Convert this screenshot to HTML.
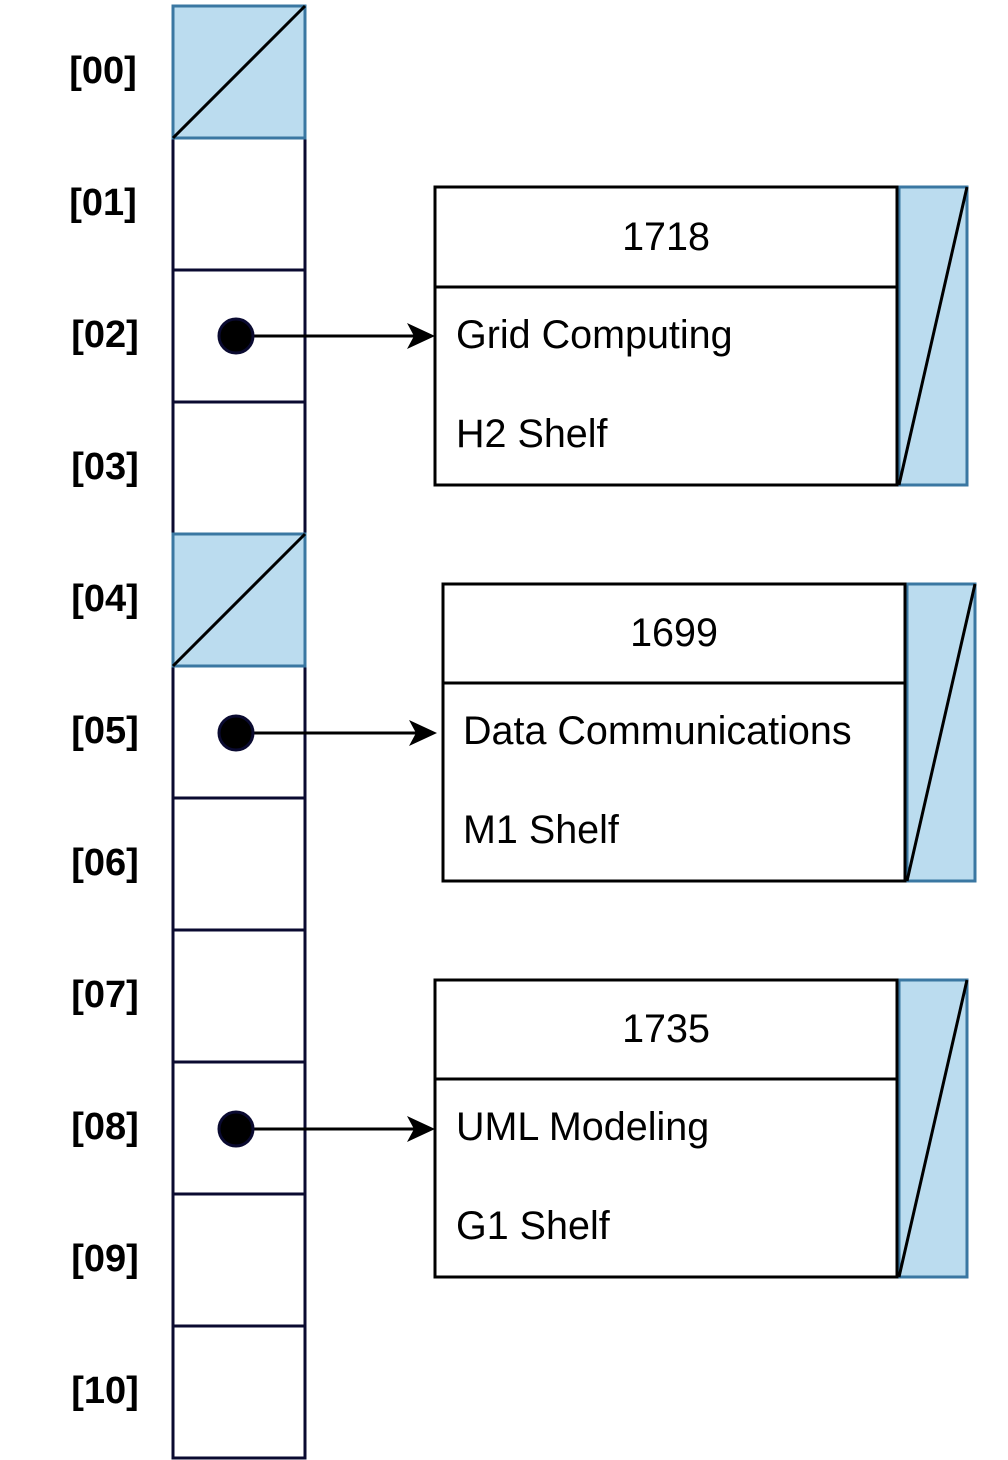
<!DOCTYPE html>
<html><head><meta charset="utf-8"><style>
html,body{margin:0;padding:0;background:#fff;}
svg{display:block;}
text{font-family:"Liberation Sans",Arial,sans-serif;}
</style></head><body>
<svg width="1008" height="1460" viewBox="0 0 1008 1460" xmlns="http://www.w3.org/2000/svg">
<g fill="#fff" stroke="#0a0a30" stroke-width="3">
<rect x="173" y="138" width="132" height="132"/>
<rect x="173" y="270" width="132" height="132"/>
<rect x="173" y="402" width="132" height="132"/>
<rect x="173" y="666" width="132" height="132"/>
<rect x="173" y="798" width="132" height="132"/>
<rect x="173" y="930" width="132" height="132"/>
<rect x="173" y="1062" width="132" height="132"/>
<rect x="173" y="1194" width="132" height="132"/>
<rect x="173" y="1326" width="132" height="132"/>
</g>
<g fill="#bbdcef" stroke="#3a77a2" stroke-width="3">
<rect x="173" y="6" width="132" height="132"/>
<rect x="173" y="534" width="132" height="132"/>
<rect x="899" y="187" width="68" height="298"/>
<rect x="907" y="584" width="68" height="297"/>
<rect x="899" y="980" width="68" height="297"/>
</g>
<g stroke="#000" stroke-width="3">
<line x1="173" y1="138" x2="305" y2="6"/>
<line x1="173" y1="666" x2="305" y2="534"/>
<line x1="899" y1="485" x2="967" y2="187"/>
<line x1="907" y1="881" x2="975" y2="584"/>
<line x1="899" y1="1277" x2="967" y2="980"/>
</g>
<g fill="none" stroke="#000" stroke-width="3">
<rect x="435" y="187" width="462" height="298"/><line x1="435" y1="287" x2="897" y2="287"/>
<rect x="443" y="584" width="462" height="297"/><line x1="443" y1="683" x2="905" y2="683"/>
<rect x="435" y="980" width="462" height="297"/><line x1="435" y1="1079" x2="897" y2="1079"/>
</g>
<g stroke="#000" stroke-width="3">
<line x1="236" y1="336" x2="420" y2="336"/>
<line x1="236" y1="733" x2="420" y2="733"/>
<line x1="236" y1="1129" x2="420" y2="1129"/>
</g>
<g fill="#000">
<path d="M435 336 L407 323 L414 336 L407 349 Z"/>
<path d="M437 733 L409 720 L416 733 L409 746 Z"/>
<path d="M435 1129 L407 1116 L414 1129 L407 1142 Z"/>
</g>
<g fill="#000" stroke="#0a0a30" stroke-width="3">
<circle cx="236" cy="336" r="17"/>
<circle cx="236" cy="733" r="17"/>
<circle cx="236" cy="1129" r="17"/>
</g>
<g font-size="38" font-weight="bold" fill="#000" text-anchor="middle">
<text x="103" y="83">[00]</text>
<text x="103" y="215">[01]</text>
<text x="105" y="347">[02]</text>
<text x="105" y="479">[03]</text>
<text x="105" y="611">[04]</text>
<text x="105" y="743">[05]</text>
<text x="105" y="875">[06]</text>
<text x="105" y="1007">[07]</text>
<text x="105" y="1139">[08]</text>
<text x="105" y="1271">[09]</text>
<text x="105" y="1403">[10]</text>
</g>
<g font-size="39.5" fill="#000">
<text x="666" y="250" text-anchor="middle">1718</text>
<text x="456" y="348">Grid Computing</text>
<text x="456" y="447">H2 Shelf</text>
<text x="674" y="646" text-anchor="middle">1699</text>
<text x="463" y="744">Data Communications</text>
<text x="463" y="843">M1 Shelf</text>
<text x="666" y="1042" text-anchor="middle">1735</text>
<text x="456" y="1140">UML Modeling</text>
<text x="456" y="1239">G1 Shelf</text>
</g>
</svg>
</body></html>
